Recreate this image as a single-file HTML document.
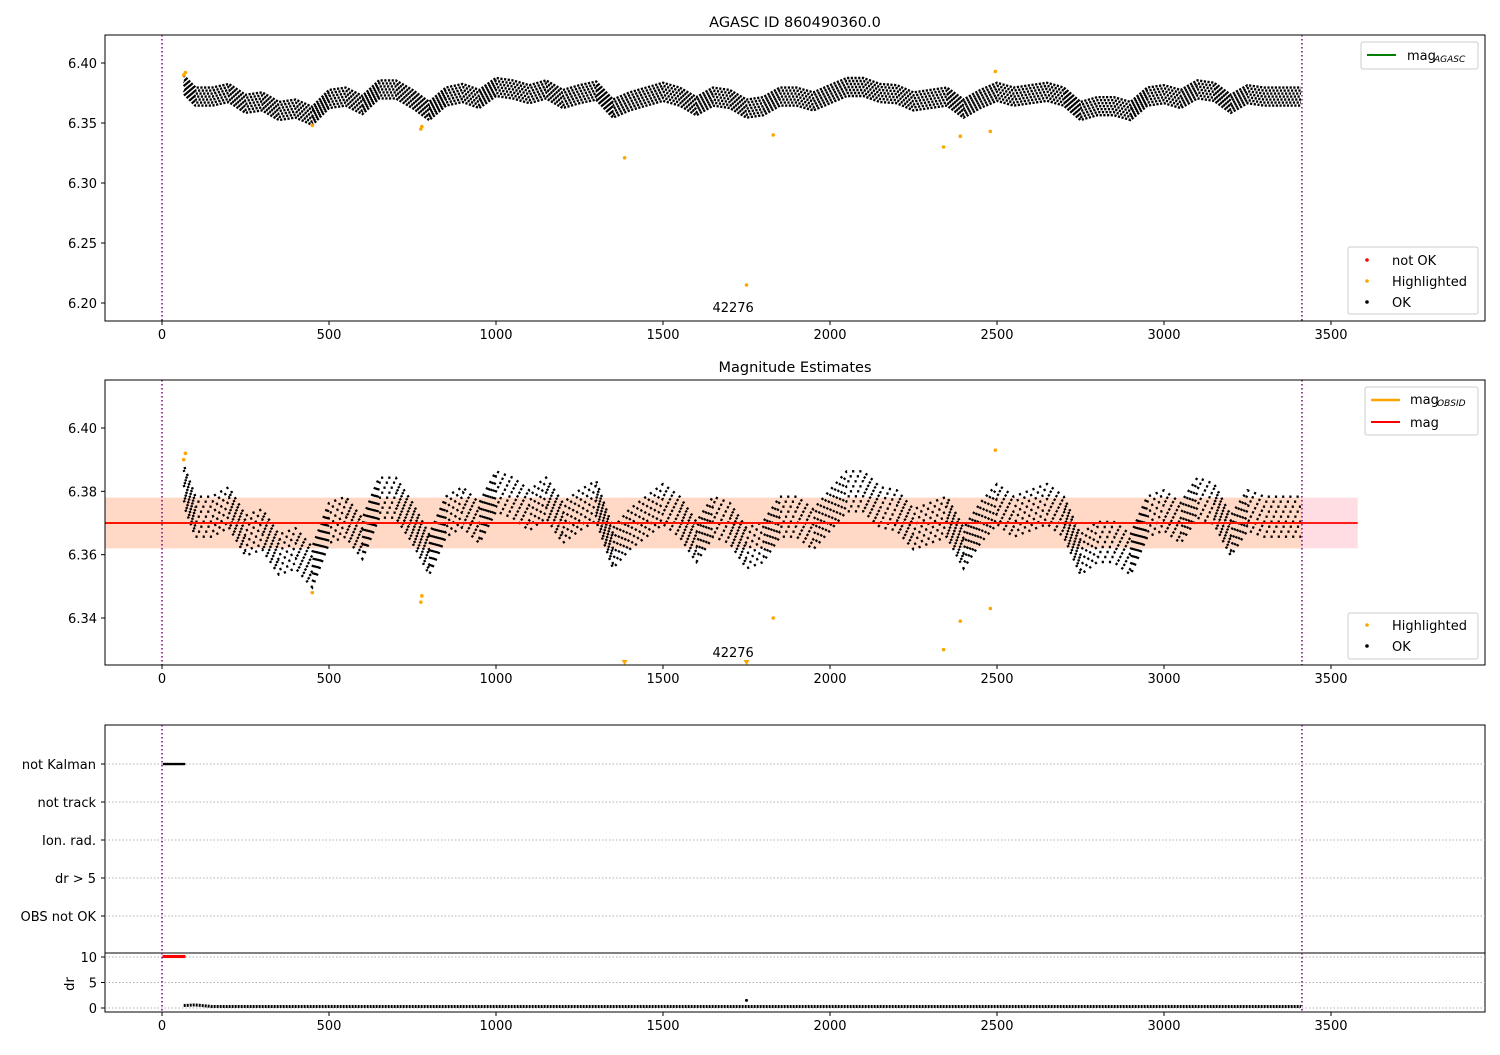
<!DOCTYPE html>
<html><head><meta charset="utf-8"><style>
body{margin:0;background:#fff}
svg text{font-family:"DejaVu Sans","Liberation Sans",sans-serif;font-size:13px;fill:#000}
</style></head><body>
<svg id="chart" width="1500" height="1050" viewBox="0 0 1500 1050" xmlns="http://www.w3.org/2000/svg"></svg>
<script>
const times=[65,100,150,200,250,300,350,400,450,500,550,600,650,700,750,800,850,900,950,1000,1050,1100,1150,1200,1250,1300,1350,1400,1450,1500,1550,1600,1650,1700,1750,1800,1850,1900,1950,2000,2050,2100,2150,2200,2250,2300,2350,2400,2450,2500,2550,2600,2650,2700,2750,2800,2850,2900,2950,3000,3050,3100,3150,3200,3250,3300,3350,3410];
const mags=[6.382,6.372,6.372,6.375,6.366,6.368,6.360,6.362,6.356,6.370,6.372,6.365,6.378,6.378,6.370,6.360,6.372,6.375,6.370,6.380,6.378,6.374,6.378,6.370,6.374,6.377,6.362,6.368,6.372,6.376,6.372,6.364,6.372,6.370,6.362,6.364,6.372,6.372,6.368,6.374,6.380,6.380,6.375,6.374,6.368,6.370,6.372,6.362,6.370,6.376,6.372,6.374,6.376,6.372,6.360,6.364,6.364,6.360,6.372,6.374,6.370,6.378,6.376,6.366,6.374,6.372,6.372,6.372];
const drs=[0.5,0.6,0.3,0.3,0.3,0.3,0.3,0.3,0.3,0.3,0.3,0.3,0.3,0.3,0.3,0.3,0.3,0.3,0.3,0.3,0.3,0.3,0.3,0.3,0.3,0.3,0.3,0.3,0.3,0.3,0.3,0.3,0.3,0.3,0.3,0.3,0.3,0.3,0.3,0.3,0.3,0.3,0.3,0.3,0.3,0.3,0.3,0.3,0.3,0.3,0.3,0.3,0.3,0.3,0.3,0.3,0.3,0.3,0.3,0.3,0.3,0.3,0.3,0.3,0.3,0.3,0.3,0.3];
const hiT=[65,70,450,775,778,1385,1750,1830,2340,2390,2480,2495];
const hiM=[6.390,6.392,6.348,6.345,6.347,6.321,6.215,6.340,6.330,6.339,6.343,6.393];
const earlyT=[0,5,10,15,20,25,30,35,40,45,50,55,60];
const drSpikeT=[1750];const drSpikeV=[1.5];
const xTicks=[0,500,1000,1500,2000,2500,3000,3500];
const y1Ticks=[6.20,6.25,6.30,6.35,6.40];
const y2Ticks=[6.34,6.36,6.38,6.40];
const flagLabels=["not Kalman","not track","Ion. rad.","dr > 5","OBS not OK"];
const drTicks=[0,5,10];
const magMean=6.370,magLo=6.362,magHi=6.378,tEnd=3413,bandEnd=3580;
const SPREAD=0.0065;

const NS="http://www.w3.org/2000/svg",svg=document.getElementById('chart');
function el(t,a,p){const e=document.createElementNS(NS,t);for(const k in a)e.setAttribute(k,a[k]);(p||svg).appendChild(e);return e;}
const X=t=>162+(t)*(1169/3500);
const L=105,R=1485;
const Y1=v=>63+(6.40-v)*1200;
const Y2=v=>428+(6.40-v)*(190/0.06);
const YD=v=>1008-v*5.1;

function frame(top,bot,name){const r=el('rect',{x:L,y:top,width:R-L,height:bot-top,fill:'none',stroke:'#000','stroke-width':1});}
function xaxis(bot,name){const g=el('g',{});
 xTicks.forEach(t=>{el('line',{x1:X(t),x2:X(t),y1:bot,y2:bot+4,stroke:'#000'},g);const tx=el('text',{x:X(t),y:bot+18,'text-anchor':'middle'},g);tx.textContent=t;});}
function yaxis(ticks,Y,fmt,name){const g=el('g',{});
 ticks.forEach(v=>{el('line',{x1:L-4,x2:L,y1:Y(v),y2:Y(v),stroke:'#000'},g);const tx=el('text',{x:L-8,y:Y(v)+5,'text-anchor':'end'},g);tx.textContent=fmt(v);});}
function vlines(top,bot,name){[0,tEnd].forEach(t=>{const l=el('line',{x1:X(t),x2:X(t),y1:top,y2:bot,stroke:'#800080','stroke-width':1.5,'stroke-dasharray':'1.5 2.5'});});}
function scatter(Y,name,step,dash){const g=el('g',{});
 const hp=Y(6.37-SPREAD)-Y(6.37);const n=Math.round(hp/step);
 for(let k=-n;k<=n;k++){const o=k*step;
  el('polyline',{points:times.map((t,i)=>X(t)+','+(Y(mags[i])+o)).join(' '),fill:'none',stroke:'#000','stroke-width':2.4,'stroke-dasharray':dash,'stroke-dashoffset':(k*2.3)%7},g);}}
function highlights(Y,top,bot,name){hiT.forEach((t,i)=>{let y=Y(hiM[i]);let c;if(y>bot){c=el('path',{d:`M${X(t)-3},${bot-5}L${X(t)+3},${bot-5}L${X(t)},${bot}Z`,fill:'orange'});}else{c=el('circle',{cx:X(t),cy:y,r:1.8,fill:'orange'});}});}
function text(x,y,s,name,anchor,size){const t=el('text',{x:x,y:y,'text-anchor':anchor||'start'});if(size)t.style.fontSize=size+'px';t.textContent=s;return t;}
function legendBox(x,y,w,h,name){const r=el('rect',{x:x,y:y,width:w,height:h,rx:2,fill:'#fff','fill-opacity':0.85,stroke:'#ccc'});}

// Plot 1
text(795,27,"AGASC ID 860490360.0","title-agasc",'middle',14.5);
frame(35,321,'plot-agasc-frame');
scatter(Y1,'ok-points-agasc',3,'2.2 1.5');
highlights(Y1,35,321,'highlighted-points-agasc');
vlines(35,321,'obs-boundary-agasc');
text(X(1710),312,"42276","obsid-label-agasc",'middle');
xaxis(321,'x-axis-agasc');yaxis(y1Ticks,Y1,v=>v.toFixed(2),'y-axis-agasc');
legendBox(1361,42,117,27,'legend-mag-agasc');
el('line',{x1:1367,x2:1396,y1:55,y2:55,stroke:'green','stroke-width':2});
text(1407,60,"mag","legend-mag-agasc-label");text(1434,62,"AGASC","legend-mag-agasc-sub",'start',9).style.fontStyle='italic';
legendBox(1348,247,130,67,'legend-status-agasc');
[['red','not OK',260],['orange','Highlighted',281],['#000','OK',302]].forEach(([c,s,y])=>{el('circle',{cx:1367,cy:y,r:1.8,fill:c});text(1392,y+5,s,'legend-entry-'+s.toLowerCase().replace(' ','-'));});

// Plot 2
text(795,372,"Magnitude Estimates","title-magnitude-estimates",'middle',14.5);
const band1=el('rect',{x:L,y:Y2(magHi),width:X(bandEnd)-L,height:Y2(magLo)-Y2(magHi),fill:'#ffdde3'});
const band2=el('rect',{x:L,y:Y2(magHi),width:X(tEnd)-L,height:Y2(magLo)-Y2(magHi),fill:'#ffd8c6'});
scatter(Y2,'ok-points-estimates',5,'2.2 5');
highlights(Y2,380,665,'highlighted-points-estimates');
const ol=el('line',{x1:L,x2:X(tEnd),y1:Y2(magMean),y2:Y2(magMean),stroke:'orange','stroke-width':2});
const rl=el('line',{x1:L,x2:X(bandEnd),y1:Y2(magMean),y2:Y2(magMean),stroke:'red','stroke-width':1.8});
vlines(380,665,'obs-boundary-estimates');
frame(380,665,'plot-estimates-frame');
text(X(1710),657,"42276","obsid-label-estimates",'middle');
xaxis(665,'x-axis-estimates');yaxis(y2Ticks,Y2,v=>v.toFixed(2),'y-axis-estimates');
legendBox(1365,387,113,48,'legend-estimates-lines');
el('line',{x1:1371,x2:1400,y1:400,y2:400,stroke:'orange','stroke-width':2.5});
text(1410,404,"mag","legend-mag-obsid-label");text(1437,406,"OBSID","legend-mag-obsid-sub",'start',9).style.fontStyle='italic';
el('line',{x1:1371,x2:1400,y1:422,y2:422,stroke:'red','stroke-width':2});text(1410,427,"mag","legend-mag-label");
legendBox(1348,613,130,46,'legend-status-estimates');
el('circle',{cx:1367,cy:625,r:1.8,fill:'orange'});text(1392,630,"Highlighted","legend-entry-highlighted-2");
el('circle',{cx:1367,cy:646,r:1.8,fill:'#000'});text(1392,651,"OK","legend-entry-ok-2");

// Plot 3 flags
frame(725,953,'plot-flags-frame');
flagLabels.forEach((s,i)=>{const y=764+i*38;el('line',{x1:L,x2:R,y1:y,y2:y,stroke:'#b0b0b0','stroke-dasharray':'1.5 2'});el('line',{x1:L-4,x2:L,y1:y,y2:y,stroke:'#000'});text(L-9,y+5,s,'flag-label-'+i,'end');});
earlyT.forEach(t=>{const c=el('circle',{cx:X(t)+2,cy:764,r:1.3,fill:'#000'});});
vlines(725,953,'obs-boundary-flags');

// Plot 4 dr
frame(953,1012,'plot-dr-frame');
drTicks.forEach(v=>{el('line',{x1:L,x2:R,y1:YD(v),y2:YD(v),stroke:'#b0b0b0','stroke-dasharray':'1.5 2'});});
yaxis(drTicks,YD,v=>v,'y-axis-dr');
const yl=text(70,984,"dr","y-axis-title-dr",'middle');yl.setAttribute('transform','rotate(-90 70 984)');yl.setAttribute('dy','4');
earlyT.forEach(t=>{const c=el('circle',{cx:X(t)+2,cy:YD(10)-0.5,r:1.6,fill:'red'});});
const dl=el('polyline',{points:times.map((t,i)=>X(t)+','+YD(drs[i])).join(' '),fill:'none',stroke:'#000','stroke-width':3,'stroke-dasharray':'2 1'});
drSpikeT.forEach((t,i)=>{el('circle',{cx:X(t),cy:YD(drSpikeV[i]),r:1.5,fill:'#000'});});
vlines(953,1012,'obs-boundary-dr');
xaxis(1012,'x-axis-dr');
</script>
</body></html>
